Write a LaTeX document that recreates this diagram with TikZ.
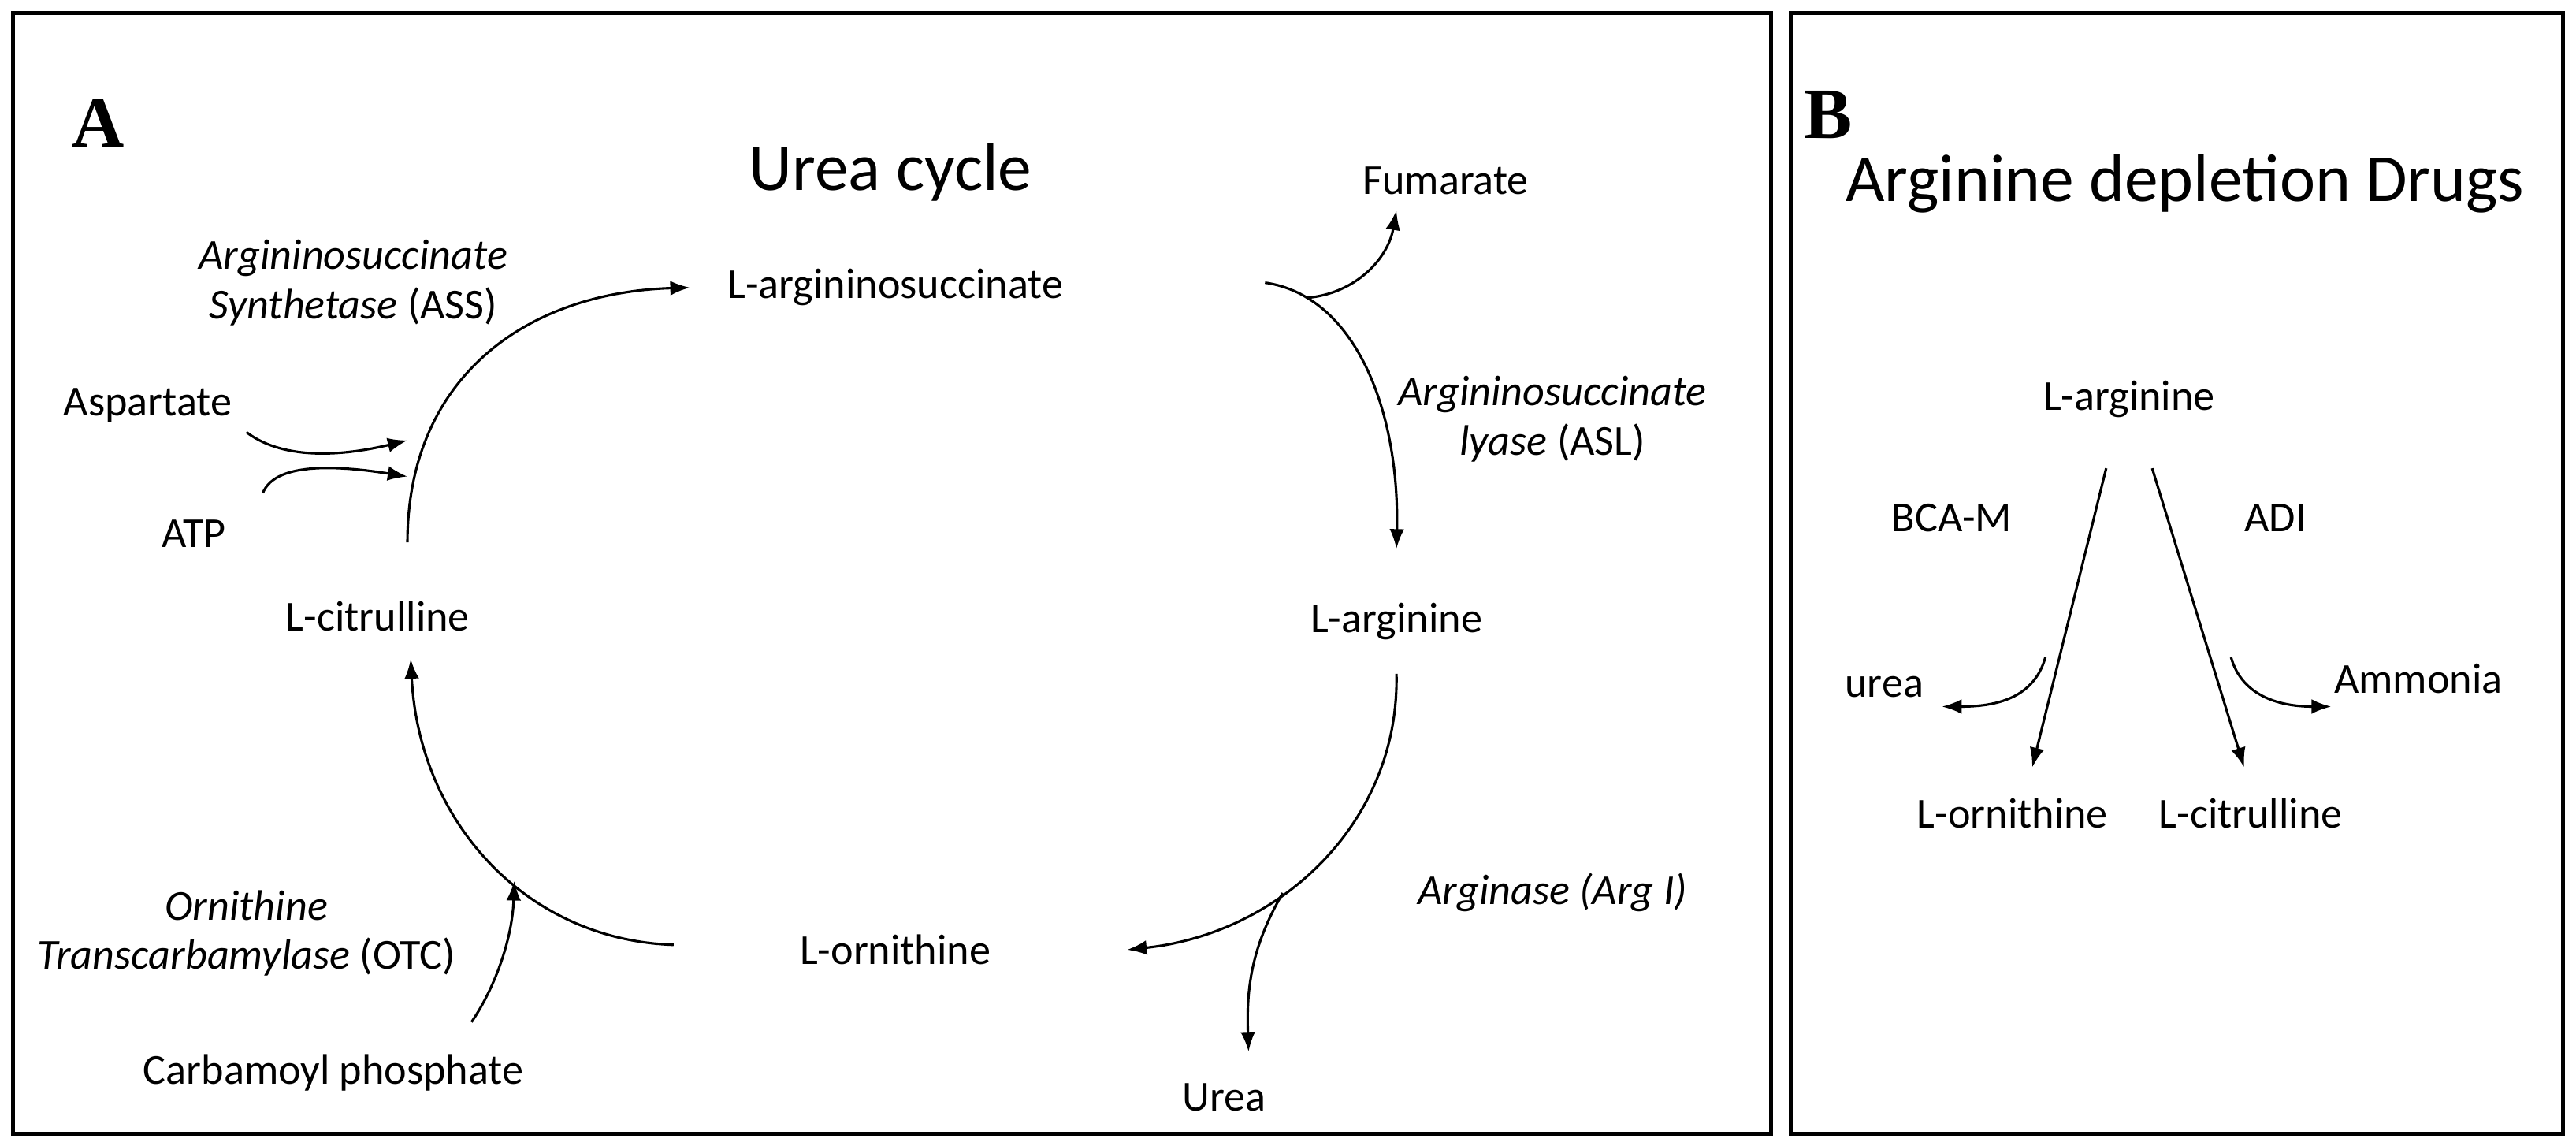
\documentclass[tikz,border=0pt]{standalone}
\usepackage{fontspec}
\setmainfont{Carlito}
\newfontfamily\panfont{Liberation Serif}
\usetikzlibrary{arrows.meta}
\begin{document}
\begin{tikzpicture}[x=1pt,y=-1pt,
  lbl/.style={font=\fontsize{26}{30}\selectfont,inner sep=1pt},
  ttl/.style={font=\fontsize{41}{45}\selectfont},
  pan/.style={font=\fontsize{44}{46}\selectfont\bfseries\panfont},
  arr/.style={-{Latex[length=12pt,width=9pt]},line width=1.5pt},
  frame/.style={line width=2.5pt}]
\useasboundingbox (0,0) rectangle (1568,697);
\draw[frame] (8,8) rectangle (1078,690);
\draw[frame] (1090,8) rectangle (1560,690);
% panel A text
\node[pan] (pA) at (60,75) {A};
\node[ttl] (t1) at (542,105) {Urea cycle};
\node[lbl,align=center] (ass) at (215,172) {\textit{Argininosuccinate}\\\textit{Synthetase} (ASS)};
\node[lbl] (asp) at (90,247) {Aspartate};
\node[lbl] (atp) at (118,325) {ATP};
\node[lbl] (cit) at (230,375) {L-citrulline};
\node[lbl] (as) at (545,175) {L-argininosuccinate};
\node[lbl] (fum) at (880,110) {Fumarate};
\node[lbl,align=center] (asl) at (945,255) {\textit{Argininosuccinate}\\\textit{lyase} (ASL)};
\node[lbl] (arg) at (850,378) {L-arginine};
\node[lbl] (argI) at (945,543) {\textit{Arginase (Arg I)}};
\node[lbl] (orn) at (545,578) {L-ornithine};
\node[lbl] (urea) at (745,668) {Urea};
\node[lbl,align=center] (otc) at (150,568) {\textit{Ornithine}\\\textit{Transcarbamylase} (OTC)};
\node[lbl] (cp) at (203,653) {Carbamoyl phosphate};
% coordinates
\coordinate (a1) at (248,330); \coordinate (a2) at (420,175);
\coordinate (b1) at (770,172); \coordinate (b2) at (850,334);
\coordinate (c1) at (850,410); \coordinate (c2) at (686,578);
\coordinate (d1) at (410,575); \coordinate (d2) at (250,401);
\coordinate (f2) at (850,128);
\coordinate (s1) at (150,263); \coordinate (s2) at (248,268);
\coordinate (p1) at (160,300); \coordinate (p2) at (248,290);
\coordinate (u2) at (760,640);
\coordinate (k1) at (287,622); \coordinate (k2) at (313,536);
\draw[arr] (a1) .. controls (248,230) and (320,178) .. (a2);
\draw[arr] (b1) .. controls (825,180) and (852,250) .. coordinate[pos=0.17] (f1) (b2);
\draw[arr] (c1) .. controls (852,500) and (780,568) .. coordinate[pos=0.62] (u1) (c2);
\draw[arr] (d1) .. controls (320,572) and (255,500) .. (d2);
\draw[arr] (f1) to[out=5,in=-100] (f2);
\draw[arr] (s1) .. controls (175,282) and (215,276) .. (s2);
\draw[arr] (p1) .. controls (168,280) and (210,284) .. (p2);
\draw[arr] (u1) to[out=-120,in=92] (u2);
\draw[arr] (k1) .. controls (302,600) and (312,570) .. (k2);
% panel B
\node[pan] (pB) at (1113,70) {B};
\node[ttl] (t2) at (1330,112) {Arginine depletion Drugs};
\node[lbl] (bArg) at (1296,243) {L-arginine};
\node[lbl] (bca) at (1188,315) {BCA-M};
\node[lbl] (adi) at (1385,315) {ADI};
\node[lbl] (burea) at (1147,418) {urea};
\node[lbl] (amm) at (1472,413) {Ammonia};
\node[lbl] (bOrn) at (1225,495) {L-ornithine};
\node[lbl] (bCit) at (1370,495) {L-citrulline};
\coordinate (l1) at (1282,285); \coordinate (l2) at (1237,467);
\coordinate (r1) at (1310,285); \coordinate (r2) at (1366,467);
\coordinate (m1) at (1245,400); \coordinate (m2) at (1182,430);
\coordinate (n1) at (1358,400); \coordinate (n2) at (1419,430);
\draw[arr] (l1) -- (l2);
\draw[arr] (r1) -- (r2);
\draw[arr] (m1) .. controls (1238,425) and (1215,430) .. (m2);
\draw[arr] (n1) .. controls (1365,425) and (1390,430) .. (n2);
\end{tikzpicture}
\end{document}
